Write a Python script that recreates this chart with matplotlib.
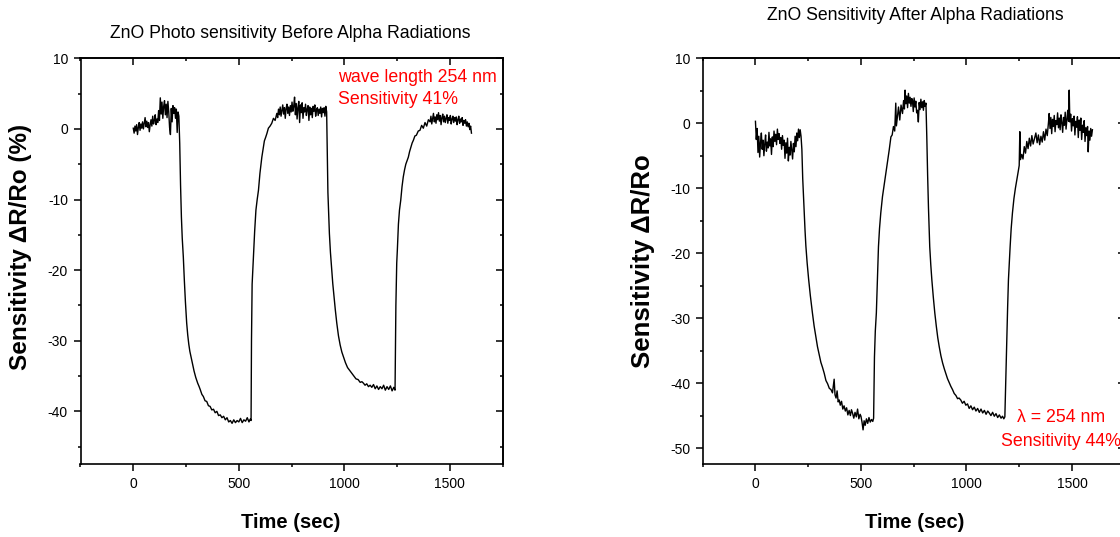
import matplotlib
matplotlib.use("Agg")
import matplotlib.pyplot as plt
from matplotlib.ticker import MultipleLocator

plt.rcParams['font.family'] = ['Liberation Sans', 'DejaVu Sans']
plt.rcParams['axes.unicode_minus'] = False

# ---- ZnO photo response before alpha irradiation ----
before_t = [
    0, 4, 8, 12, 16, 20, 24, 28, 32, 36, 40, 44, 48, 52, 56, 60, 64, 68, 72, 76,
    80, 84, 88, 92, 96, 100, 104, 108, 112, 116, 120, 124, 128, 132, 136, 140, 144,
    148, 152, 156, 160, 164, 168, 172, 176, 180, 184, 188, 192, 196, 200, 204, 208,
    212, 216,
    220, 224, 228, 232, 237, 242, 247, 253, 258, 263, 268, 273, 280, 288, 296, 305,
    312, 317, 325, 332, 340, 348, 356, 364, 372, 380, 388, 396, 404, 412, 420, 428,
    436, 444, 452, 460, 468, 476, 484, 492, 500, 508, 516, 524, 532, 540, 548, 554,
    558,
    560, 563, 569, 575, 581, 587, 593, 600, 609, 615, 621, 627, 633, 640, 648, 656,
    664, 672, 680,
    684, 688, 692, 696, 700, 704, 708, 712, 716, 720, 724, 728, 732, 736, 740, 744,
    748, 752, 756, 760, 764, 768, 772, 776, 780, 784, 788, 792, 796, 800, 804, 808,
    812, 816, 820, 824, 828, 832, 836, 840, 844, 848, 852, 856, 860, 864, 868, 872,
    876, 880, 884, 888, 892, 896, 900, 904, 908, 912, 916,
    919, 922, 926, 929, 934, 940, 945, 950, 957, 964, 972, 980, 988, 995, 1005,
    1015, 1025, 1035, 1045, 1055, 1065, 1075, 1083, 1090, 1098, 1106, 1114, 1122,
    1130, 1138, 1146, 1154, 1162, 1170, 1178, 1186, 1194, 1202, 1210, 1218, 1226,
    1234, 1240,
    1244, 1248, 1251, 1256, 1261, 1267, 1273, 1279, 1285, 1291, 1297, 1303, 1309,
    1315, 1321, 1327, 1334, 1341, 1350, 1358, 1366, 1374, 1382, 1390, 1398, 1406,
    1410, 1414, 1418, 1422, 1426, 1430, 1434, 1438, 1442, 1446, 1450, 1454, 1458,
    1462, 1466, 1470, 1474, 1478, 1482, 1486, 1490, 1494, 1498, 1502, 1506, 1510,
    1514, 1518, 1522, 1526, 1530, 1534, 1538, 1542, 1546, 1550, 1554, 1558, 1562,
    1566, 1570, 1574, 1578, 1582, 1586, 1590, 1594, 1598, 1602,
]
before_s = [
    0.1, -0.6, 0.4, -0.3, 0.6, -0.8, 0.2, 0.9, -0.2, 0.7, 0.1, 1.0, 0.0, 0.8, 1.6,
    0.3, 1.1, 0.2, 0.9, -0.4, 0.6, 1.3, 0.4, 1.8, 0.7, 1.2, 2.0, 0.6, 1.4, 0.9, 2.6,
    1.2, 4.4, 2.1, 3.8, 1.5, 3.2, 4.0, 2.0, 3.5, 1.6, 3.9, 2.4, 0.2, -0.8, 2.9, 1.0,
    3.3, 2.2, 3.0, 1.5, 2.8, -0.5, 2.4, 1.8,
    -2.0, -8.0, -12.5, -15.5, -18.1, -21.5, -24.5, -27.5, -29.2, -30.5, -31.5, -32.2,
    -33.2, -34.3, -35.2, -36.0, -36.5, -36.9, -37.6, -37.9, -38.5, -38.6, -39.2,
    -39.3, -39.8, -39.7, -40.2, -40.0, -40.6, -40.5, -40.9, -40.7, -41.2, -40.9,
    -41.5, -41.3, -41.7, -41.2, -41.6, -41.3, -41.5, -41.0, -41.6, -41.2, -41.4,
    -40.9, -41.5, -41.1, -41.3,
    -30.0, -22.0, -18.1, -14.5, -11.5, -10.0, -8.7, -6.3, -4.0, -2.8, -1.7, -1.2,
    -0.65, 0.1, 0.4, 0.8, 1.5, 1.2, 2.2,
    1.6, 2.8, 2.0, 3.1, 1.8, 2.6, 3.4, 2.1, 3.0, 1.5, 2.9, 3.5, 2.2, 3.1, 1.9, 3.3,
    2.4, 3.8, 2.5, 3.2, 4.5, 2.0, 3.6, 1.4, 3.0, 3.9, 0.9, 3.4, 2.3, 3.7, 1.5, 3.0,
    2.4, 3.5, 1.9, 2.8, 3.3, 1.2, 3.1, 2.0, 2.9, 1.6, 3.2, 2.5, 3.4, 1.8, 2.7, 3.0,
    1.9, 2.8, 2.2, 3.1, 1.7, 2.9, 2.3, 3.0, 1.8, 3.2, 2.4,
    -3.0, -9.0, -12.5, -14.8, -17.5, -20.0, -21.9, -23.5, -25.6, -27.5, -29.3,
    -30.6, -31.6, -32.2, -33.1, -33.8, -34.2, -34.6, -35.0, -35.4, -35.5, -35.9,
    -35.8, -36.0, -36.3, -36.1, -36.5, -36.3, -36.6, -36.2, -36.8, -36.4, -36.9,
    -36.5, -36.8, -36.3, -37.0, -36.5, -36.9, -36.4, -37.1, -36.6, -37.0,
    -25.0, -19.0, -17.1, -13.5, -11.5, -10.1, -8.2, -6.8, -5.8, -5.0, -4.5, -4.0,
    -3.2, -2.6, -2.0, -1.6, -1.0, -0.9, -0.3, -0.2, 0.5, 0.1, 0.9, 0.4, 1.3, 1.0,
    1.8, 0.7, 1.5, 2.2, 1.0, 1.7, 0.8, 2.0, 1.3, 2.3, 1.1, 1.9, 0.6, 1.6, 2.1, 1.0,
    1.8, 0.9, 1.5, 2.0, 0.8, 1.6, 1.2, 1.9, 0.7, 1.4, 1.8, 0.9, 1.6, 1.1, 1.7, 0.6,
    1.3, 1.8, 0.8, 1.4, 1.0, 1.6, 0.5, 1.2, 0.8, 1.3, 0.4, 1.0, 0.3, 0.8, -0.1, 0.4,
    -0.6,
]

# ---- ZnO response after alpha irradiation ----
after_t = [
    0, 4, 8, 12, 16, 20, 24, 28, 32, 36, 40, 44, 48, 52, 56, 60, 64, 68, 72, 76,
    80, 84, 88, 92, 96, 100, 104, 108, 112, 116, 120, 124, 128, 132, 136, 140, 144,
    148, 152, 156, 160, 164, 168, 172, 176, 180, 184, 188, 192, 196, 200, 204, 208,
    212, 216,
    220, 224, 228, 231, 235, 239, 245, 252, 260, 270, 278, 286, 294, 302, 310, 318,
    326, 334, 342, 350, 358, 365, 370, 373, 377, 382, 387, 392, 397, 402, 408, 414,
    420, 426, 432, 438, 444, 450, 455, 460, 466, 472, 478, 484, 490, 496, 500, 505,
    510, 515, 520, 526, 532, 538, 544, 550, 556, 560,
    564, 568, 573, 578, 583, 588, 594, 602, 610, 618, 626, 634, 642, 648, 654, 660,
    665, 668, 672, 678, 684, 690, 697, 702, 706, 709, 713, 717, 721, 725, 729, 733,
    737, 741, 744, 748, 752, 756, 760, 764, 768, 772, 776, 780, 784, 788, 792, 796,
    800, 804, 808,
    812, 816, 820, 826, 831, 836, 843, 850, 857, 864, 871, 879, 887, 895, 902, 910,
    918, 926, 934, 942, 950, 958, 965, 973, 981, 989, 997, 1005, 1013, 1021, 1029,
    1037, 1045, 1053, 1061, 1069, 1077, 1085, 1093, 1101, 1108, 1116, 1124, 1132,
    1140, 1148, 1156, 1164, 1171, 1177, 1182,
    1186, 1190, 1195, 1199, 1203, 1207, 1212, 1218, 1225, 1232, 1239, 1245, 1250,
    1253, 1256, 1262, 1268, 1274, 1280, 1286, 1292, 1298, 1304, 1310, 1316, 1322,
    1329, 1335, 1341, 1347, 1353, 1359, 1365, 1371, 1377, 1383, 1389, 1392, 1396,
    1400, 1404, 1408, 1412, 1416, 1420, 1424, 1428, 1432, 1436, 1440, 1444, 1448,
    1452, 1456, 1460, 1464, 1468, 1472, 1476, 1480, 1484, 1487, 1490, 1494, 1498,
    1502, 1506, 1510, 1514, 1518, 1522, 1526, 1530, 1534, 1538, 1542, 1546, 1550,
    1554, 1558, 1562, 1566, 1570, 1574, 1577, 1581, 1585, 1589, 1593, 1597,
]
after_s = [
    0.3, -2.5, -0.8, -4.5, -2.0, -5.2, -3.0, -1.5, -4.0, -2.6, -5.0, -3.2, -1.8,
    -4.3, -2.9, -3.8, -1.4, -3.5, -2.4, -4.8, -2.1, -3.6, -1.2, -2.8, -1.7, -3.3,
    -0.9, -2.5, -1.6, -3.1, -2.2, -4.0, -1.9, -3.4, -2.6, -5.4, -3.0, -4.6, -2.3,
    -5.8, -3.7, -4.9, -2.8, -4.2, -5.5, -3.1, -4.4, -2.0, -3.6, -1.5, -2.7, -0.9,
    -2.2, -1.0, -2.0,
    -4.0, -8.5, -11.5, -13.8, -16.5, -18.9, -21.5, -24.0, -26.5, -29.2, -31.2, -32.8,
    -34.4, -35.6, -36.8, -37.6, -38.5, -39.6, -40.1, -40.8, -41.0, -41.5, -40.2,
    -39.4, -41.8, -42.3, -41.2, -42.9, -42.6, -43.4, -42.8, -44.0, -43.5, -44.3,
    -43.8, -44.9, -44.2, -45.0, -44.1, -44.6, -45.4, -44.5, -45.2, -44.0, -45.5,
    -44.8, -45.1, -46.0, -47.2, -45.8, -46.5, -45.5, -46.2, -45.3, -46.0, -45.6,
    -45.9, -45.4,
    -36.0, -32.0, -29.2, -24.0, -19.0, -16.2, -13.8, -11.3, -9.5, -7.7, -5.8, -4.1,
    -2.1, -1.8, -0.5, -1.2, 3.1, -0.4, 0.8, 2.5, 0.5, 2.8, 1.5, 3.5, 2.2, 5.1, 3.0,
    4.2, 2.4, 4.6, 3.1, 4.0, 2.6, 3.8, 3.6, 1.8, 3.9, 2.5, 3.4, 1.6, 2.0, 0.2, 3.2,
    2.1, 3.7, 2.4, 3.3, 2.0, 3.5, 2.6, 3.1,
    -2.0, -8.0, -13.0, -19.0, -21.8, -24.1, -26.8, -29.2, -31.2, -33.0, -34.4,
    -35.8, -36.9, -37.8, -38.5, -39.3, -39.9, -40.5, -41.0, -41.6, -41.9, -42.4,
    -42.3, -42.6, -43.1, -42.8, -43.4, -43.2, -43.9, -43.5, -44.1, -43.7, -44.3,
    -43.9, -44.5, -44.0, -44.6, -44.2, -44.8, -44.3, -44.6, -45.0, -44.5, -45.1,
    -44.7, -45.3, -44.9, -45.4, -45.1, -45.5, -45.2,
    -40.0, -34.4, -28.5, -24.1, -21.5, -19.0, -16.2, -13.8, -11.6, -10.0, -8.7,
    -7.5, -6.5, -1.3, -5.6, -4.8, -5.5, -3.6, -4.6, -2.8, -3.9, -2.3, -3.5, -1.9,
    -3.2, -2.4, -1.5, -3.0, -1.8, -3.3, -2.0, -2.9, -1.3, -2.6, -0.9, -1.9, 0.2, 1.5,
    -0.8, 0.9, -1.6, 0.6, -0.5, 1.2, -1.3, 0.4, -0.2, 1.6, -0.7, 0.8, -1.0, 1.3, 0.1,
    -1.4, 0.9, -0.3, 1.7, -0.9, 0.5, 2.0, 0.3, 5.1, 0.2, 1.4, -1.2, 0.7, -0.4, 1.1,
    -1.8, 0.3, -0.6, 1.0, -2.2, 0.5, -1.1, 0.8, -2.5, -0.3, -1.4, 0.4, -2.8, -0.7,
    -1.9, -0.5, -4.4, -1.2, -2.6, -0.8, -2.0, -1.0,
]

x_ticks = [0, 500, 1000, 1500]
before_y_ticks = [10, 0, -10, -20, -30, -40]
after_y_ticks = [10, 0, -10, -20, -30, -40, -50]

W, H = 1120, 537
fig = plt.figure(figsize=(W / 100, H / 100), dpi=100)


def box(x0, y0, x1, y1):
    """Axes rectangle from pixel corners (top-left origin)."""
    return [x0 / W, 1 - y1 / H, (x1 - x0) / W, (y1 - y0) / H]


def put(x, y, s, **kw):
    """Figure text at a pixel position measured from the top-left corner."""
    return fig.text(x / W, 1 - y / H, s, **kw)


def style(ax, yticks, ylim):
    ax.set_xlim(-250, 1750)
    ax.set_ylim(*ylim)
    ax.set_xticks(x_ticks)
    ax.set_yticks(yticks)
    ax.xaxis.set_minor_locator(MultipleLocator(250))
    ax.yaxis.set_minor_locator(MultipleLocator(5))
    for sp in ax.spines.values():
        sp.set_linewidth(1.2)
    ax.tick_params(which='both', direction='out', top=False, right=False,
                   labelsize=10, width=1.1, pad=4)
    ax.tick_params(which='major', length=5)
    ax.tick_params(which='minor', length=2.5)
    # inward ticks on the top and right edges, without labels
    sec_x = ax.secondary_xaxis('top')
    sec_x.set_xticks(x_ticks)
    sec_x.xaxis.set_minor_locator(MultipleLocator(250))
    sec_x.tick_params(which='both', direction='in', labeltop=False, width=1.1)
    sec_x.tick_params(which='major', length=5)
    sec_x.tick_params(which='minor', length=2.5)
    sec_y = ax.secondary_yaxis('right')
    sec_y.set_yticks(yticks)
    sec_y.yaxis.set_minor_locator(MultipleLocator(5))
    sec_y.tick_params(which='both', direction='in', labelright=False, width=1.1)
    sec_y.tick_params(which='major', length=5)
    sec_y.tick_params(which='minor', length=2.5)
    sec_x.spines['top'].set_linewidth(1.2)
    sec_y.spines['right'].set_linewidth(1.2)


red = '#ff0000'

ax1 = fig.add_axes(box(80.5, 58.3, 502.7, 464.3))
ax1.plot(before_t, before_s, color='black', lw=1.0)
style(ax1, before_y_ticks, (-47.5, 10))
put(291, 522, 'Time (sec)', fontsize=14.5, fontweight='bold',
    ha='center', va='center')
put(21, 247, 'Sensitivity \u0394R/Ro (%)', fontsize=17.5, fontweight='bold',
    rotation=90, ha='center', va='center')
put(290, 33, 'ZnO Photo sensitivity Before Alpha Radiations',
    fontsize=12.7, ha='center', va='center')
put(338, 77, 'wave length 254 nm', color=red, fontsize=12.8,
    ha='left', va='center')
put(338, 100, 'Sensitivity 41%', color=red, fontsize=12.8,
    ha='left', va='center')

ax2 = fig.add_axes(box(702.7, 58.3, 1124.7, 464.3))
ax2.plot(after_t, after_s, color='black', lw=1.0)
style(ax2, after_y_ticks, (-52.5, 10))
put(915, 522, 'Time (sec)', fontsize=14.5, fontweight='bold',
    ha='center', va='center')
put(643, 261, 'Sensitivity \u0394R/Ro', fontsize=18.5, fontweight='bold',
    rotation=90, ha='center', va='center')
put(915, 15, 'ZnO Sensitivity After Alpha Radiations',
    fontsize=12.7, ha='center', va='center')
put(1061, 418, '\u03bb = 254 nm', color=red, fontsize=12.8,
    ha='center', va='center')
put(1061, 441, 'Sensitivity 44%', color=red, fontsize=12.8,
    ha='center', va='center')

fig.savefig('out.png', dpi=100)
